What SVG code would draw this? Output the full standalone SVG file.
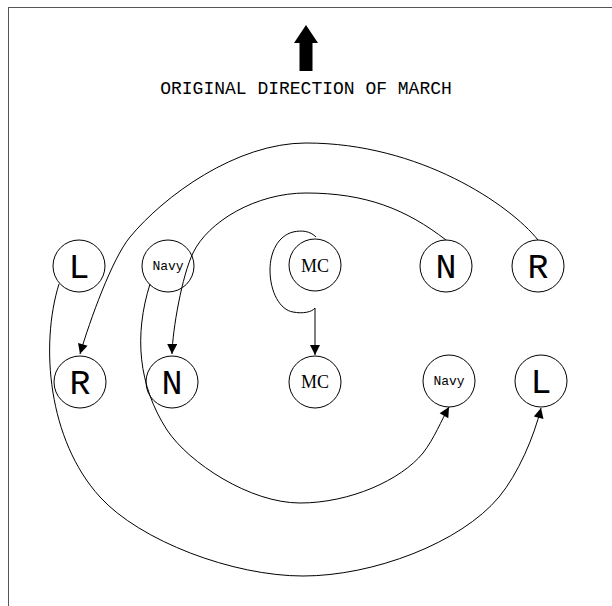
<svg xmlns="http://www.w3.org/2000/svg" width="612" height="606" viewBox="0 0 612 606">
<style>
.node circle{fill:#fff;stroke:#000;stroke-width:1}
.big{font-family:"Liberation Mono","Courier New",monospace;font-size:35px;text-anchor:middle}
.navy{font-family:"Liberation Mono","Courier New",monospace;font-size:13px;text-anchor:middle}
.mc{font-family:"Liberation Serif","Times New Roman",serif;font-size:18px;text-anchor:middle}
.title{font-family:"Liberation Mono","Courier New",monospace;font-size:18px;text-anchor:middle}
#edges path{fill:none;stroke:#000;stroke-width:1}
</style>
<defs>
<marker id="ah" viewBox="0 0 10 10" refX="10" refY="5" markerWidth="13" markerHeight="10" markerUnits="userSpaceOnUse" orient="auto">
<path d="M0,0 L10,5 L0,10 z" fill="#000"/>
</marker>
</defs>
<rect width="612" height="606" fill="#fff"/>
<rect x="8.5" y="7.5" width="640" height="640" fill="none" stroke="#555" stroke-width="1"/>
<g id="march-arrow">
<polygon points="306,25 318,43 312.5,43 312.5,71 299.5,71 299.5,43 294,43" fill="#000"/>
<text class="title" x="306" y="94">ORIGINAL DIRECTION OF MARCH</text>
</g>
<g id="L-top" class="node"><circle cx="79" cy="266" r="26"/><text class="big" x="79" y="278">L</text></g>
<g id="Navy-top" class="node"><circle cx="168" cy="266" r="26"/><text class="navy" x="168" y="270">Navy</text></g>
<g id="MC-top" class="node"><circle cx="315" cy="265" r="26"/><text class="mc" x="315" y="272">MC</text></g>
<g id="N-top" class="node"><circle cx="446" cy="266" r="26"/><text class="big" x="446" y="278">N</text></g>
<g id="R-top" class="node"><circle cx="538" cy="266" r="26"/><text class="big" x="538" y="278">R</text></g>
<g id="R-bottom" class="node"><circle cx="80" cy="382" r="26"/><text class="big" x="80" y="394">R</text></g>
<g id="N-bottom" class="node"><circle cx="172" cy="382" r="26"/><text class="big" x="172" y="394">N</text></g>
<g id="MC-bottom" class="node"><circle cx="315" cy="382" r="26"/><text class="mc" x="315" y="388">MC</text></g>
<g id="Navy-bottom" class="node"><circle cx="449" cy="381" r="26"/><text class="navy" x="449" y="385">Navy</text></g>
<g id="L-bottom" class="node"><circle cx="541" cy="381" r="26"/><text class="big" x="541" y="393">L</text></g>
<g id="edges">
<path d="M538,240 C510,205 420,143 306,143 C236,143 164,196 130,237 C112,259 90,320 80,354" marker-end="url(#ah)"/>
<path d="M446,240 C406.5,209.5 366,193 306,193 C256,193 208,221.5 193,253 C182,275.5 172.5,330 172,354" marker-end="url(#ah)"/>
<path d="M316,237 C310,231 302,230 293,232 C278,236 270,252 270,270 C270,292 280,310 293,312 C303,314 312,312 315,308 L315,355" marker-end="url(#ah)"/>
<path d="M59,284 C40,345 48,440 100,497 C140,541 233,576 303,576 C373,576 460.6,543 499,497 C518,474 534,437 541,408" marker-end="url(#ah)"/>
<path d="M150,284 C134,335 138,385 167,430 C189,463 250,503 300,503 C350,503 401,480 423,453 C434,439 441.5,420 449,407" marker-end="url(#ah)"/>
</g>
</svg>
